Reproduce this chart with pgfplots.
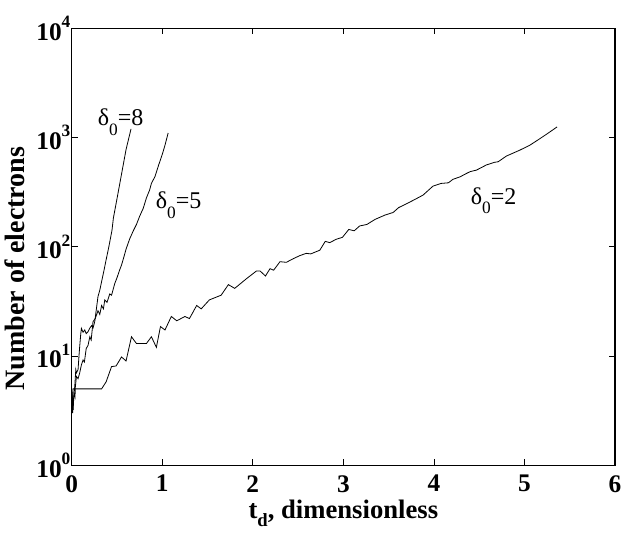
\documentclass[border=0pt]{standalone}
\usepackage{fontspec}
\setmainfont{Liberation Serif}
\usepackage{pgfplots}
\pgfplotsset{compat=1.18}
\newcommand{\ysup}[1]{10\raisebox{0.5em}{\fontsize{13}{14}\selectfont #1}}
\newcommand{\dlab}[1]{δ\raisebox{-0.4em}{\fontsize{13}{14}\selectfont 0}=#1}
\begin{document}
\begin{tikzpicture}
\path[use as bounding box] (-53.8pt,-50.8pt) rectangle (424.75pt,348.95pt);
\begin{axis}[
  at={(0pt,0pt)}, anchor=south west,
  scale only axis, width=407.5pt, height=327.75pt,
  xmin=0, xmax=6, ymode=log, log basis y=10, ymin=1, ymax=10000,
  xtick={0,1,2,3,4,5,6},
  ytick={1,10,100,1000,10000},
  yticklabels={\ysup{0},\ysup{1},\ysup{2},\ysup{3},\ysup{4}},
  axis line style={line width=0.9pt},
  major tick length=4.5pt, minor tick length=2.5pt,
  every tick/.style={black, line width=0.6pt},
  tick label style={font=\fontsize{19}{21}\selectfont\bfseries},
  xticklabel style={yshift=-4pt},
  yticklabel style={xshift=2.5pt},
  /pgf/number format/assume math mode=true,
  xlabel={t\raisebox{-0.3em}{\fontsize{14}{15}\selectfont d}, dimensionless},
  ylabel={Number of electrons},
  xlabel style={font=\fontsize{20}{22}\selectfont\bfseries, at={(axis description cs:0.5,0)}, anchor=base, yshift=-40pt},
  ylabel style={font=\fontsize{21}{23}\selectfont\bfseries, at={(axis description cs:-0.104,0.45)}, anchor=center},
]
% delta0 = 2
\addplot[black, line width=0.6pt] coordinates {
(0,3) (0.015,5) (0.33,5) (0.38,5.8) (0.44,8) (0.49,8.1) (0.55,9.8) (0.60,9)
(0.66,15) (0.715,13) (0.825,13) (0.88,15) (0.935,12) (0.98,18.6) (1.03,17.3)
(1.10,23) (1.16,21) (1.25,23) (1.30,22) (1.38,29) (1.43,27) (1.52,32.6)
(1.65,36) (1.73,45) (1.80,41.6) (1.93,51) (2.04,60) (2.08,60) (2.14,54)
(2.19,63) (2.23,61) (2.30,73) (2.37,72) (2.45,78) (2.52,83) (2.59,87) (2.64,86)
(2.74,93) (2.80,112) (2.85,109) (2.92,117) (2.99,122) (3.06,144) (3.12,140)
(3.18,155) (3.26,160) (3.35,178) (3.46,195) (3.55,206) (3.61,228) (3.74,258)
(3.79,271) (3.88,297) (3.99,359) (4.08,380) (4.16,385) (4.21,414) (4.29,437)
(4.36,469) (4.40,487) (4.47,503) (4.58,561) (4.67,593) (4.71,600) (4.80,676)
(4.95,767) (5.06,851) (5.15,951) (5.25,1080) (5.36,1250)
};
% delta0 = 5
\addplot[black, line width=0.6pt] coordinates {
(0,5) (0.015,3.2) (0.025,4.5) (0.036,4.2) (0.04,5.2) (0.052,6.5) (0.07,6.2)
(0.088,7) (0.107,8.3) (0.125,9.2) (0.14,8.8) (0.16,11.7) (0.18,12.5) (0.2,15)
(0.215,14) (0.235,20.6) (0.26,22) (0.29,26) (0.31,24) (0.33,29) (0.35,27)
(0.365,32.6) (0.39,31) (0.42,37) (0.44,36) (0.475,46) (0.5,52) (0.525,60)
(0.55,68) (0.575,80) (0.60,95) (0.64,118) (0.68,140) (0.715,160) (0.75,190)
(0.79,225) (0.825,280) (0.86,330) (0.88,380) (0.92,440) (0.96,560) (1.0,700)
(1.03,850) (1.065,1100)
};
% delta0 = 8
\addplot[black, line width=0.6pt] coordinates {
(0,5) (0.01,3) (0.02,4) (0.033,5.2) (0.045,7.5) (0.052,7) (0.07,7.5) (0.08,10)
(0.088,12.2) (0.1,16) (0.107,17.9) (0.125,16.5) (0.144,17.3) (0.16,16)
(0.18,16.7) (0.2,18) (0.22,19) (0.235,18) (0.254,20.6) (0.27,26) (0.29,35)
(0.31,40) (0.33,48) (0.355,60) (0.38,76) (0.41,100) (0.445,142) (0.46,183)
(0.5,275) (0.55,462) (0.6,776) (0.655,1200)
};
\node[font=\fontsize{18}{20}\selectfont] at (axis cs:0.54,1380) {\dlab{8}};
\node[font=\fontsize{18}{20}\selectfont] at (axis cs:1.18,240) {\dlab{5}};
\node[font=\fontsize{18}{20}\selectfont] at (axis cs:4.66,265) {\dlab{2}};
\end{axis}
\end{tikzpicture}
\end{document}
